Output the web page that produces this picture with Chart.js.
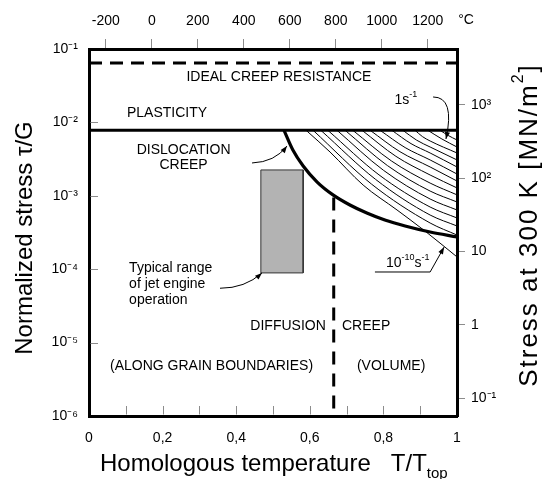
<!DOCTYPE html>
<html>
<head>
<meta charset="utf-8">
<script src="https://cdn.jsdelivr.net/npm/chart.js@4.4.1/dist/chart.umd.min.js"></script>
<style>
  html, body { margin: 0; padding: 0; background: #fff; }
  #map { display: block; }
</style>
</head>
<body>
<canvas id="map" width="549" height="479"></canvas>
<script>
// Deformation mechanism map (superalloy)
// x = homologous temperature T/Ttop, y = normalized stress tau/G (log)

const FONT = 'Arial, "Liberation Sans", sans-serif';

// axis ticks
const tauTicks = [1e-6, 1e-5, 1e-4, 1e-3, 1e-2, 1e-1];
const tauTickLabels = ['10⁻⁶', '10⁻⁵', '10⁻⁴', '10⁻³', '10⁻²', '10⁻¹'];
const stressTicks = [0.1, 1, 10, 100, 1000];
const stressTickLabels = ['10⁻¹', '1', '10', '10²', '10³'];
const tempTicksC = [-200, 0, 200, 400, 600, 800, 1000, 1200];
const T_TOP_K = 1600;         // melting point used for the top axis
const SHEAR_MODULUS = 5.75e4; // MN/m2, links tau/G to stress at 300 K

// field boundaries
const idealTau = 6.45e-2;
const plasticityTau = 7.8e-3;

const boundaryX   = [0.530, 0.554, 0.582, 0.620, 0.663, 0.709, 0.755, 0.804, 0.859, 0.927, 1.000];
const boundaryTau = [7.8e-3, 4.21e-3, 2.55e-3, 1.54e-3, 1.03e-3, 7.5e-4, 5.83e-4, 4.68e-4, 3.88e-4, 3.21e-4, 2.75e-4];

const diffusionX   = [0.665, 0.665];
const diffusionTau = [9.5e-4, 1e-6];

// typical range of jet engine operation
const jetX   = [0.467, 0.582, 0.582, 0.467, 0.467];
const jetTau = [2.25e-3, 2.25e-3, 8.9e-5, 8.9e-5, 2.25e-3];

// strain-rate contours, 1 s^-1 (top) down to 1e-10 s^-1 (bottom)
const rateX = [
  [0.954, 0.976, 1.0],
  [0.921, 0.959, 1.0],
  [0.886, 0.906, 0.927, 1.0],
  [0.853, 0.890, 0.927, 1.0],
  [0.823, 0.875, 0.927, 1.0],
  [0.791, 0.859, 0.927, 1.0],
  [0.764, 0.845, 0.927, 1.0],
  [0.742, 0.834, 0.927, 1.0],
  [0.717, 0.822, 0.927, 1.0],
  [0.696, 0.811, 0.927, 1.0],
  [0.674, 0.800, 0.927, 1.0],
  [0.649, 0.788, 0.927, 1.0],
  [0.630, 0.779, 0.927, 1.0],
  [0.609, 0.768, 0.927, 1.0],
  [0.590, 0.655, 0.745, 0.837, 0.913, 1.0],
];
const rateTau = [
  [7.8e-3, 6.64e-3, 5.76e-3],
  [7.8e-3, 5.94e-3, 4.62e-3],
  [7.8e-3, 6.41e-3, 5.58e-3, 3.83e-3],
  [7.8e-3, 5.74e-3, 4.62e-3, 3.08e-3],
  [7.8e-3, 5.14e-3, 3.83e-3, 2.47e-3],
  [7.8e-3, 4.54e-3, 3.08e-3, 1.98e-3],
  [7.8e-3, 3.99e-3, 2.47e-3, 1.59e-3],
  [7.8e-3, 3.45e-3, 1.92e-3, 1.28e-3],
  [7.8e-3, 2.98e-3, 1.49e-3, 1.03e-3],
  [7.8e-3, 2.58e-3, 1.16e-3, 8.24e-4],
  [7.8e-3, 2.23e-3, 9.04e-4, 6.41e-4],
  [7.8e-3, 1.93e-3, 7.03e-4, 4.99e-4],
  [7.8e-3, 1.67e-3, 5.47e-4, 3.88e-4],
  [7.8e-3, 1.44e-3, 4.26e-4, 2.92e-4],
  [7.8e-3, 3.95e-3, 1.40e-3, 6.41e-4, 3.31e-4, 1.47e-4],
];

const pts = (xs, ys) => xs.map((x, i) => ({ x, y: ys[i] }));

function line(data, opts) {
  return Object.assign({
    data,
    showLine: true,
    borderColor: '#000',
    borderWidth: 3,
    pointRadius: 0,
    fill: false,
  }, opts);
}

// first dataset is drawn on top
const datasets = [
  line(pts([0, 1], [plasticityTau, plasticityTau])),
  line(pts(boundaryX, boundaryTau), { cubicInterpolationMode: 'monotone', borderWidth: 3.2 }),
  line(pts([0, 1], [idealTau, idealTau]), { borderDash: [13, 8] }),
  line(pts(diffusionX, diffusionTau), { borderDash: [13, 9], borderCapStyle: 'butt' }),
  ...rateX.map((xs, i) => line(pts(xs, rateTau[i]), { borderWidth: 1, cubicInterpolationMode: 'monotone' })),
  line(pts(jetX, jetTau), { borderWidth: 1, borderColor: '#333', backgroundColor: '#b3b3b3', fill: 'shape' }),
];

// labels and pointers, in data units [x, tau]
const notes = [
  { text: [['IDEAL CREEP RESISTANCE']], at: [0.516, 4.16e-2], align: 'center' },
  { text: [['PLASTICITY']], at: [0.212, 1.34e-2], align: 'center' },
  { text: [['1s'], ['-1', 'sup']], at: [0.830, 2.02e-2], align: 'left' },
  { text: [['DISLOCATION']], at: [0.257, 4.2e-3], align: 'center' },
  { text: [['CREEP']], at: [0.257, 2.63e-3], align: 'center' },
  { text: [['Typical range']], at: [0.109, 1.04e-4], align: 'left' },
  { text: [['of jet engine']], at: [0.109, 6.3e-5], align: 'left' },
  { text: [['operation']], at: [0.109, 3.8e-5], align: 'left' },
  { text: [['10'], ['-10', 'sup'], ['s'], ['-1', 'sup']], at: [0.807, 1.21e-4], align: 'left' },
  { text: [['DIFFUSION']], at: [0.541, 1.68e-5], align: 'center' },
  { text: [['CREEP']], at: [0.753, 1.68e-5], align: 'center' },
  { text: [['(ALONG GRAIN BOUNDARIES)']], at: [0.333, 4.8e-6], align: 'center' },
  { text: [['(VOLUME)']], at: [0.821, 4.8e-6], align: 'center' },
];
const pointers = [
  { curve: [[0.935, 2.22e-2], [0.995, 2.22e-2], [0.970, 5.94e-3]] },
  { curve: [[0.443, 2.8e-3], [0.505, 2.88e-3], [0.538, 4.76e-3]] },
  { curve: [[0.356, 5.5e-5], [0.424, 5.5e-5], [0.470, 8.9e-5]] },
  { poly: [[0.777, 9.16e-5], [0.927, 9.16e-5], [0.965, 2.0e-4]] },
];

function drawRich(ctx, parts, x, y, size, align) {
  const fontFor = k => `${k ? Math.round(size * 0.62) : size}px ${FONT}`;
  const widths = parts.map(([t, k]) => { ctx.font = fontFor(k); return ctx.measureText(t).width; });
  const total = widths.reduce((a, b) => a + b, 0);
  let cx = align === 'center' ? x - total / 2 : align === 'right' ? x - total : x;
  ctx.textAlign = 'left';
  parts.forEach(([t, k], i) => {
    ctx.font = fontFor(k);
    const dy = k === 'sup' ? -size * 0.42 : k === 'sub' ? size * 0.3 : 0;
    ctx.fillText(t, cx, y + dy);
    cx += widths[i];
  });
}

function arrowHead(ctx, fx, fy, tx, ty) {
  const a = Math.atan2(ty - fy, tx - fx);
  const len = 7, half = 2.6;
  ctx.beginPath();
  ctx.moveTo(tx, ty);
  ctx.lineTo(tx - len * Math.cos(a) + half * Math.sin(a), ty - len * Math.sin(a) - half * Math.cos(a));
  ctx.lineTo(tx - len * Math.cos(a) - half * Math.sin(a), ty - len * Math.sin(a) + half * Math.cos(a));
  ctx.closePath();
  ctx.fill();
}

const mapDecor = {
  id: 'mapDecor',
  afterDraw(chart) {
    const { ctx, chartArea: area, scales } = chart;
    const X = v => scales.x.getPixelForValue(v);
    const Y = v => scales.y.getPixelForValue(v);
    ctx.save();

    // inward tick marks on bottom and left axes
    ctx.strokeStyle = '#8c8c8c';
    ctx.lineWidth = 1;
    ctx.beginPath();
    scales.x.ticks.forEach(t => {
      if (t.value <= 0.001 || t.value >= 0.999) return;
      const px = Math.round(X(t.value)) + 0.5;
      ctx.moveTo(px, area.bottom - 1.5);
      ctx.lineTo(px, area.bottom - 10);
    });
    scales.y.ticks.forEach(t => {
      if (t.value <= 1e-6 || t.value >= 1e-1) return;
      const py = Math.round(Y(t.value)) + 0.5;
      ctx.moveTo(area.left + 1.5, py);
      ctx.lineTo(area.left + 9, py);
    });
    ctx.stroke();

    // pointers
    ctx.strokeStyle = '#000';
    ctx.fillStyle = '#000';
    ctx.lineWidth = 1;
    pointers.forEach(p => {
      const c = (p.curve || p.poly).map(([x, y]) => [X(x), Y(y)]);
      ctx.beginPath();
      ctx.moveTo(c[0][0], c[0][1]);
      if (p.curve) ctx.quadraticCurveTo(c[1][0], c[1][1], c[2][0], c[2][1]);
      else c.slice(1).forEach(([x, y]) => ctx.lineTo(x, y));
      ctx.stroke();
      const n = c.length;
      arrowHead(ctx, c[n - 2][0], c[n - 2][1], c[n - 1][0], c[n - 1][1]);
    });

    // field labels
    ctx.textBaseline = 'middle';
    notes.forEach(n => drawRich(ctx, n.text, X(n.at[0]), Y(n.at[1]), 14, n.align));

    // axis titles
    drawRich(ctx, [['°C']], 466, 20, 14, 'center');

    ctx.save();
    ctx.translate(25, 238);
    ctx.rotate(-Math.PI / 2);
    drawRich(ctx, [['Normalized stress τ/G']], 0, 0, 24, 'center');
    ctx.restore();

    ctx.save();
    ctx.translate(530, 225);
    ctx.rotate(-Math.PI / 2);
    if ('letterSpacing' in ctx) ctx.letterSpacing = '2px';
    drawRich(ctx, [['Stress at 300 K [MN/m'], ['2', 'sup'], [']']], 0, 0, 26, 'center');
    ctx.restore();

    ctx.textBaseline = 'alphabetic';
    drawRich(ctx, [['Homologous temperature   T/T'], ['top', 'sub']], 100, 471, 24, 'left');
    ctx.restore();
  },
};

const tickFont = { family: FONT, size: 14 };

new Chart(document.getElementById('map'), {
  type: 'scatter',
  data: { datasets },
  options: {
    responsive: false,
    animation: false,
    layout: { padding: 0 },
    plugins: { legend: { display: false }, tooltip: { enabled: false } },
    scales: {
      x: {
        type: 'linear',
        position: 'bottom',
        min: 0,
        max: 1,
        afterFit: s => { s.height = 63; },
        border: { color: '#000', width: 3 },
        grid: { drawOnChartArea: false, drawTicks: false },
        ticks: {
          stepSize: 0.1,
          autoSkip: false,
          maxRotation: 0,
          padding: 14,
          color: '#000',
          font: tickFont,
          callback: v => {
            const k = Math.round(v * 10);
            return k % 2 ? '' : String(k / 10).replace('.', ',');
          },
        },
      },
      x2: {
        type: 'linear',
        position: 'top',
        min: -273,
        max: T_TOP_K - 273,
        afterFit: s => { s.height = 49; },
        afterBuildTicks: s => { s.ticks = tempTicksC.map(v => ({ value: v })); },
        border: { color: '#000', width: 3 },
        grid: { drawOnChartArea: false, drawTicks: true, tickLength: 10, color: '#8c8c8c' },
        ticks: { padding: 9, color: '#000', font: tickFont, maxRotation: 0, autoSkip: false, callback: v => String(v) },
      },
      y: {
        type: 'logarithmic',
        position: 'left',
        min: 1e-6,
        max: 1e-1,
        afterFit: s => { s.width = 89; },
        afterBuildTicks: s => { s.ticks = tauTicks.map(v => ({ value: v })); },
        border: { color: '#000', width: 3 },
        grid: { drawOnChartArea: false, drawTicks: false },
        ticks: { padding: 11, color: '#000', font: tickFont, callback: (v, i) => tauTickLabels[i] },
      },
      y2: {
        type: 'logarithmic',
        position: 'right',
        min: 1e-6 * SHEAR_MODULUS,
        max: 1e-1 * SHEAR_MODULUS,
        afterFit: s => { s.width = 92; },
        afterBuildTicks: s => { s.ticks = stressTicks.map(v => ({ value: v })); },
        border: { color: '#000', width: 3 },
        grid: { drawOnChartArea: false, drawTicks: true, tickLength: 8, color: '#8c8c8c' },
        ticks: { padding: 6, color: '#000', font: tickFont, callback: (v, i) => stressTickLabels[i] },
      },
    },
  },
  plugins: [mapDecor],
});
</script>
</body>
</html>
